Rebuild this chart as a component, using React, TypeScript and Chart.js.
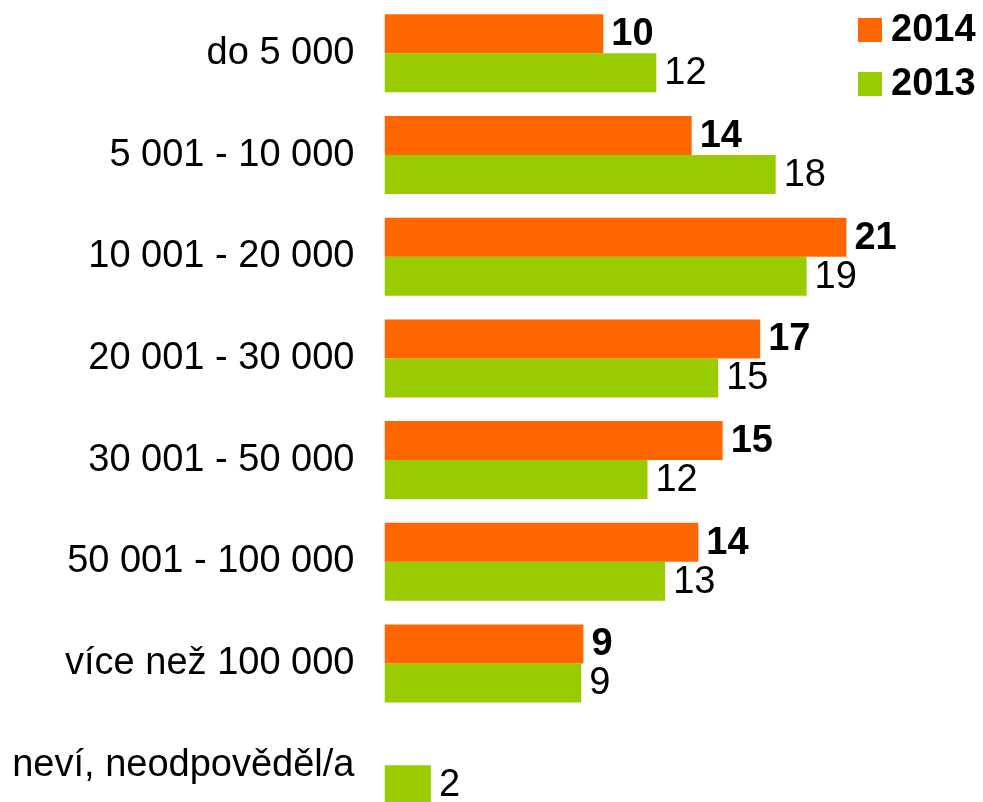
import React, { useEffect, useRef } from "react";
import { Chart, registerables } from "chart.js";

Chart.register(...registerables);

const categories = [
  "do 5 000",
  "5 001 - 10 000",
  "10 001 - 20 000",
  "20 001 - 30 000",
  "30 001 - 50 000",
  "50 001 - 100 000",
  "více než 100 000",
  "neví, neodpověděl/a",
];

const values2014: (number | null)[] = [9.9, 13.9, 20.9, 17.0, 15.3, 14.2, 9.0, null];
const values2013: (number | null)[] = [12.3, 17.7, 19.1, 15.1, 11.9, 12.7, 8.9, 2.1];

const labels2014: (string | null)[] = ["10", "14", "21", "17", "15", "14", "9", null];
const labels2013: (string | null)[] = ["12", "18", "19", "15", "12", "13", "9", "2"];

const seriesNames = ["2014", "2013"];
const seriesColors = ["#FF6600", "#99CC00"];

const FONT = "'Liberation Sans', Arial, Helvetica, sans-serif";

const valueLabelsPlugin = {
  id: "valueLabels",
  afterDatasetsDraw(chart: any) {
    const ctx = chart.ctx;
    const allLabels = [labels2014, labels2013];
    ctx.save();
    ctx.fillStyle = "#000000";
    ctx.textBaseline = "middle";
    ctx.textAlign = "left";
    chart.data.datasets.forEach((ds: any, di: number) => {
      const meta = chart.getDatasetMeta(di);
      ctx.font = (di === 0 ? "bold " : "") + "38px " + FONT;
      meta.data.forEach((el: any, i: number) => {
        const txt = allLabels[di][i];
        if (txt == null || ds.data[i] == null) return;
        ctx.fillText(txt, el.x + 8, el.y + 1);
      });
    });
    ctx.restore();
  },
};

const legendPlugin = {
  id: "customLegend",
  afterDraw(chart: any) {
    const ctx = chart.ctx;
    ctx.save();
    const x = 858;
    const ys = [30, 84];
    seriesNames.forEach((name, i) => {
      ctx.fillStyle = seriesColors[i];
      ctx.fillRect(x, ys[i] - 12, 24, 24);
      ctx.fillStyle = "#000000";
      ctx.font = "bold 38px " + FONT;
      ctx.textBaseline = "middle";
      ctx.textAlign = "left";
      ctx.fillText(name, x + 33, ys[i] + 1);
    });
    ctx.restore();
  },
};

export default function App() {
  const canvasRef = useRef<HTMLCanvasElement | null>(null);

  useEffect(() => {
    if (!canvasRef.current) return;
    const chart = new Chart(canvasRef.current, {
      type: "bar",
      data: {
        labels: categories,
        datasets: [
          {
            label: seriesNames[0],
            data: values2014,
            backgroundColor: seriesColors[0],
            borderWidth: 0,
            categoryPercentage: 0.767,
            barPercentage: 1,
          },
          {
            label: seriesNames[1],
            data: values2013,
            backgroundColor: seriesColors[1],
            borderWidth: 0,
            categoryPercentage: 0.767,
            barPercentage: 1,
          },
        ],
      },
      options: {
        indexAxis: "y",
        responsive: false,
        animation: false,
        devicePixelRatio: 1,
        layout: { padding: { top: 2.5, bottom: 14, left: 0, right: 46 } },
        plugins: {
          legend: { display: false },
          tooltip: { enabled: false },
        },
        scales: {
          x: {
            display: false,
            min: 0,
            max: 25,
          },
          y: {
            grid: { display: false, drawTicks: false },
            border: { display: false },
            ticks: {
              autoSkip: false,
              color: "#000000",
              padding: 30,
              font: { family: FONT, size: 38 },
            },
            afterFit(scale: any) {
              scale.width = 384.5;
              scale.paddingTop = 0;
              scale.paddingBottom = 0;
            },
          },
        },
      },
      plugins: [valueLabelsPlugin, legendPlugin],
    });
    return () => chart.destroy();
  }, []);

  return (
    <div
      style={{
        position: "fixed",
        left: 0,
        top: 0,
        width: 983,
        height: 802,
        overflow: "hidden",
        background: "#ffffff",
      }}
    >
      <canvas ref={canvasRef} width={983} height={830} style={{ display: "block" }} />
    </div>
  );
}
